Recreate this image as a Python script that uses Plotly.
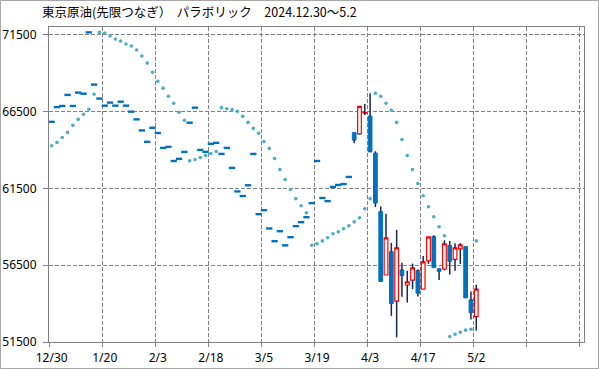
import plotly.graph_objects as go

# ---- data -------------------------------------------------------------
dates = ["12/30", "1/6", "1/7", "1/8", "1/9", "1/10", "1/14", "1/15", "1/16", "1/17",
         "1/20", "1/21", "1/22", "1/23", "1/24", "1/27", "1/28", "1/29", "1/30", "1/31",
         "2/3", "2/4", "2/5", "2/6", "2/7", "2/10", "2/12", "2/13", "2/14", "2/17",
         "2/18", "2/19", "2/20", "2/21", "2/25", "2/26", "2/27", "2/28", "3/3", "3/4",
         "3/5", "3/6", "3/7", "3/10", "3/11", "3/12", "3/13", "3/14", "3/17", "3/18",
         "3/19", "3/21", "3/24", "3/25", "3/26", "3/27", "3/28", "3/31", "4/1", "4/2",
         "4/3", "4/4", "4/7", "4/8", "4/9", "4/10", "4/11", "4/14", "4/15", "4/16",
         "4/17", "4/18", "4/21", "4/22", "4/23", "4/24", "4/25", "4/28", "4/30", "5/1",
         "5/2"]

# days with a single price (open = high = low = close)
flat_prices = [65830, 66790, 66860, 67580, 66860, 67730, 67660, 71650, 68250, 67340,
               66880, 67080, 66880, 67140, 66880, 66490, 65990, 65270, 64530, 65440,
               65100, 64130, 64200, 63280, 63420, 63870, 65770, 66750, 64000, 63870,
               64400, 64460, 63740, 64130, 62830, 61300, 61000, 61700, 63740, 59820,
               60080, 58890, 58060, 58710, 57790, 58320, 59040, 59300, 59620, 60540,
               63280, 60870, 60670, 61590, 61720, 61780, 62240]

opens = flat_prices + [65140, 65050, 66400, 66210, 63790, 59980, 55860, 57380, 54160, 56190,
                       55210, 55530, 56140, 54940, 56780, 58360, 56270, 56250, 57780, 56880,
                       57560, 57710, 54250, 53150]
highs = flat_prices + [65140, 66840, 66990, 67690, 63920, 60320, 59850, 57950, 58800, 56660,
                       56140, 56600, 56230, 57100, 58340, 58450, 56270, 58120, 58080, 57930,
                       57930, 57710, 54790, 55230]
lows = flat_prices + [64440, 65000, 66270, 63870, 60280, 55440, 55860, 53200, 51800, 54440,
                      54070, 54940, 54460, 54940, 56580, 56340, 55530, 56160, 55880, 56140,
                      56580, 54370, 52960, 52240]
closes = flat_prices + [64640, 66840, 66430, 63870, 60540, 55440, 58280, 54000, 57620, 55830,
                        55420, 56320, 54680, 56710, 58340, 56340, 56100, 57890, 56750, 57620,
                        57820, 54370, 53400, 54940]

sar = [64270, 64490, 64810, 65140, 65600, 65990, 66320, 66640, 67620, 71650,
       71610, 71420, 71220, 71090, 70890, 70760, 70500, 70110, 69650, 69060,
       68470, 68020, 67490, 67040, 66450, 65930, 63290, 63380, 63510, 63640,
       63770, 63900, 66750, 66680, 66620, 66510, 66190, 65790, 65400, 65080,
       64550, 64100, 63440, 62720, 62070, 61420, 60830, 60370, 59910, 57800,
       57890, 58080, 58280, 58540, 58670, 58870, 59060, 59320, 59590, 60170,
       60830, 67690, 67490, 67040, 66580, 65790, 64680, 63640, 62720, 61810,
       61020, 60300, 59650, 59000, 58410, 51850, 52000, 52130, 52270, 52330,
       58080]

y_ticks = [51500, 56500, 61500, 66500, 71500]
title_text = "東京原油(先限つなぎ）  パラボリック　2024.12.30～5.2"

# ---- styling -----------------------------------------------------------
BLUE = "#0070C0"
RED = "#FF0000"
NAVY = "#1A2456"
SARC = "#4BACC6"
GRID = "#808080"
W, H = 599, 369
ML, MR, MT, MB = 49, 15, 27, 27

x = list(range(len(dates)))
up = [i for i in x if closes[i] > opens[i]]
down = [i for i in x if closes[i] < opens[i]]
flat = [i for i in x if closes[i] == opens[i]]

# wicks, drawn only outside the bodies
wx, wy = [], []
for i in x:
    top = max(opens[i], closes[i])
    bot = min(opens[i], closes[i])
    if highs[i] > top:
        wx += [i, i, None]
        wy += [highs[i], top, None]
    if lows[i] < bot:
        wx += [i, i, None]
        wy += [bot, lows[i], None]


def bodies(idx, line_color, fill, lw):
    style = dict(line=dict(color=line_color, width=lw), fillcolor=fill)
    return go.Candlestick(
        x=[x[i] for i in idx],
        open=[opens[i] for i in idx],
        close=[closes[i] for i in idx],
        high=[max(opens[i], closes[i]) for i in idx],
        low=[min(opens[i], closes[i]) for i in idx],
        increasing=style, decreasing=style,
        whiskerwidth=0, hoverinfo="skip", showlegend=False,
    )


fig = go.Figure()
fig.add_trace(go.Scatter(x=wx, y=wy, mode="lines", line=dict(color=NAVY, width=1.5),
                         hoverinfo="skip", showlegend=False))
fig.add_trace(bodies(down, BLUE, BLUE, 1))
fig.add_trace(bodies(up, RED, "#FFFFFF", 1.2))
fig.add_trace(go.Scatter(
    x=[x[i] for i in flat], y=[closes[i] for i in flat], mode="markers",
    marker=dict(symbol="line-ew", size=4.5, line=dict(color=BLUE, width=2.4)),
    hoverinfo="skip", showlegend=False))
fig.add_trace(go.Scatter(
    x=x, y=sar, mode="markers", xaxis="x2",
    marker=dict(symbol="circle", size=3.6, color=SARC),
    hoverinfo="skip", showlegend=False))

pw, ph = W - ML - MR, H - MT - MB
xr = [-0.5, 100.3]

fig.update_layout(
    width=W, height=H,
    margin=dict(l=ML, r=MR, t=MT, b=MB, pad=0, autoexpand=False),
    paper_bgcolor="white", plot_bgcolor="white",
    showlegend=False,
    boxgap=0.3, boxgroupgap=0,
    title=dict(text=title_text, x=42 / W, xanchor="left", xref="container",
               y=1 - 12.5 / H, yanchor="middle", yref="container", automargin=False,
               font=dict(family="Noto Sans CJK JP", size=12.5, color="#000000")),
    xaxis=dict(
        range=xr, tickmode="array", automargin=False,
        tickvals=[v - 0.5 for v in range(0, 101, 10)],
        showticklabels=False, ticks="outside", ticklen=4, tickcolor=GRID,
        showgrid=True, gridcolor=GRID, gridwidth=1, griddash="4px,2px",
        showline=True, linecolor=GRID, linewidth=1, mirror=True,
        zeroline=False, rangeslider=dict(visible=False),
    ),
    xaxis2=dict(
        range=xr, overlaying="x", side="bottom", anchor="y", matches="x",
        automargin=False,
        tickmode="array", tickvals=x[::10], ticktext=dates[::10],
        showgrid=False, zeroline=False, ticks="", showline=False,
        ticklabelstandoff=7,
        tickfont=dict(family="Noto Sans", size=12, color="#000000"),
    ),
    yaxis=dict(
        range=[51500, 72000], tickmode="array", tickvals=y_ticks, automargin=False,
        ticktext=[str(v) for v in y_ticks],
        ticks="outside", ticklen=5, tickcolor=GRID,
        showgrid=True, gridcolor=GRID, gridwidth=1, griddash="4px,2px",
        showline=True, linecolor=GRID, linewidth=1, mirror=True,
        zeroline=False, ticklabelstandoff=4,
        tickfont=dict(family="Noto Sans", size=12, color="#000000"),
    ),
    shapes=[dict(type="rect", xref="paper", yref="paper",
                 x0=(0.5 - ML) / pw, x1=(W - 0.5 - ML) / pw,
                 y0=-(MB - 0.5) / ph, y1=1 + (MT - 0.5) / ph,
                 line=dict(color="#A6A6A6", width=1), layer="below")],
)

fig.write_html("out.html", config={"displayModeBar": False},
               post_script="document.body.style.margin='0px';document.body.style.overflow='hidden';")
